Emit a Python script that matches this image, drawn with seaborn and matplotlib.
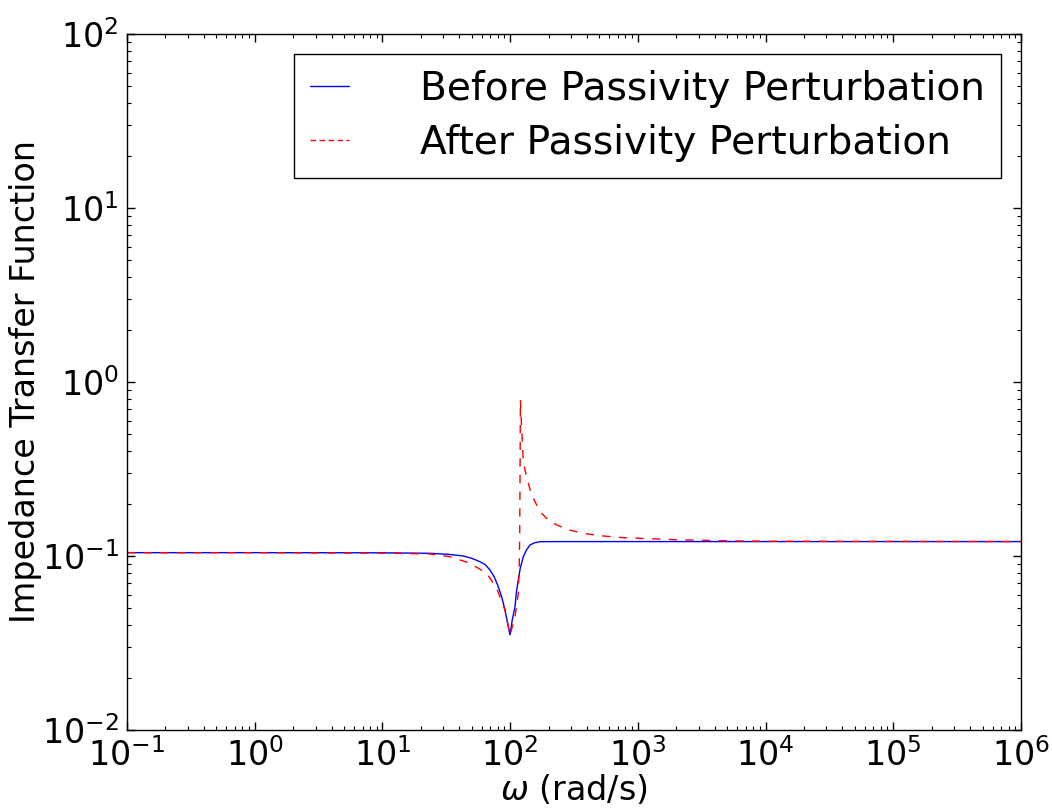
import numpy as np
import pandas as pd
import matplotlib
matplotlib.use("Agg")
import matplotlib.pyplot as plt
import seaborn as sns

# ---- data ----
omega_before = [0.1, 1, 10, 23.6, 33, 43.0, 50, 58.1, 64, 69.6, 75, 80.8, 86,
                91.2, 95, 99.8, 104, 109.2, 112, 115.9, 120, 126.9, 134, 143.2,
                155, 171.5, 245.9, 1000, 1e6]
z_before = [0.1045, 0.1045, 0.1043, 0.1036, 0.1022, 0.1000, 0.0970, 0.0927,
            0.0890, 0.0830, 0.0760, 0.0666, 0.0580, 0.0489, 0.0420, 0.0352,
            0.0430, 0.0511, 0.0620, 0.0728, 0.0850, 0.0990, 0.1080, 0.1157,
            0.1190, 0.1208, 0.1210, 0.1210, 0.1210]

omega_after = [0.1, 1, 10, 23.6, 33.8, 48.5, 65.6, 78.5, 91.2, 99.8, 109.2,
               115.9, 118.0, 119.0, 119.6, 120.4, 123.0, 126.9, 134.9, 147.6,
               171.5, 205.3, 277.5, 374.4, 505.8, 770, 1000, 2000, 5000, 1e4,
               1e6]
z_after = [0.1045, 0.1045, 0.1040, 0.1027, 0.0991, 0.0908, 0.0795, 0.0652,
           0.0489, 0.0351, 0.0448, 0.0610, 0.0912, 0.141, 0.30, 0.788, 0.55,
           0.347, 0.2808, 0.2242, 0.1797, 0.1574, 0.1423, 0.1350, 0.1308,
           0.1274, 0.1265, 0.1240, 0.1222, 0.1215, 0.1210]

label_before = "Before Passivity Perturbation"
label_after = "After Passivity Perturbation"

sns.set_style("white", {
    "xtick.direction": "in", "ytick.direction": "in",
    "xtick.top": True, "ytick.right": True,
    "xtick.bottom": True, "ytick.left": True,
    "axes.edgecolor": "black",
    "text.color": "black", "axes.labelcolor": "black",
    "xtick.color": "black", "ytick.color": "black",
})
plt.rcParams["font.family"] = ["DejaVu Sans"]
plt.rcParams["mathtext.fontset"] = "dejavusans"
plt.rcParams.update({
    "axes.unicode_minus": False,
    "xtick.major.size": 5.6, "ytick.major.size": 5.6,
    "xtick.minor.size": 2.8, "ytick.minor.size": 2.8,
    "xtick.major.width": 1.0, "ytick.major.width": 1.0,
    "xtick.minor.width": 0.8, "ytick.minor.width": 0.8,
    "xtick.minor.visible": True, "ytick.minor.visible": True,
    "xtick.major.pad": 6, "ytick.major.pad": 6,
})

fig = plt.figure(figsize=(10.52, 8.10), dpi=100)
ax = fig.add_axes([0.1207, 0.0988, 0.8498, 0.8592])

df_b = pd.DataFrame({"omega": omega_before, "z": z_before})
df_a = pd.DataFrame({"omega": omega_after, "z": z_after})

sns.lineplot(data=df_b, x="omega", y="z", ax=ax, color="blue", lw=1.0,
             label=label_before, estimator=None, sort=False)
sns.lineplot(data=df_a, x="omega", y="z", ax=ax, color="red", lw=1.0,
             dashes=False, label=label_after, estimator=None, sort=False)
ax.lines[1].set_linestyle((0, (6, 6)))

ax.set_xscale("log")
ax.set_yscale("log")
ax.set_xlim(0.1, 1e6)
ax.set_ylim(1e-2, 1e2)
for s in ax.spines.values():
    s.set_linewidth(1.0)
    s.set_color("black")

ax.tick_params(labelsize=24, colors="black")
ax.set_xlabel(r"$\omega$ (rad/s)", fontsize=24, labelpad=0, color="black")
ax.set_ylabel("Impedance Transfer Function", fontsize=24, labelpad=0,
              color="black")

leg = ax.legend(loc="upper right", fontsize=28.2, frameon=True, fancybox=False,
                edgecolor="black", framealpha=1, handlelength=1.0,
                handletextpad=1.8, borderpad=0.42, labelspacing=0.40,
                borderaxespad=0.5)
leg.get_frame().set_linewidth(1.0)
for t in leg.get_texts():
    t.set_color("black")
leg.get_lines()[1].set_linestyle((0, (4, 2.5)))

fig.savefig("out.png", dpi=100, facecolor="white")
